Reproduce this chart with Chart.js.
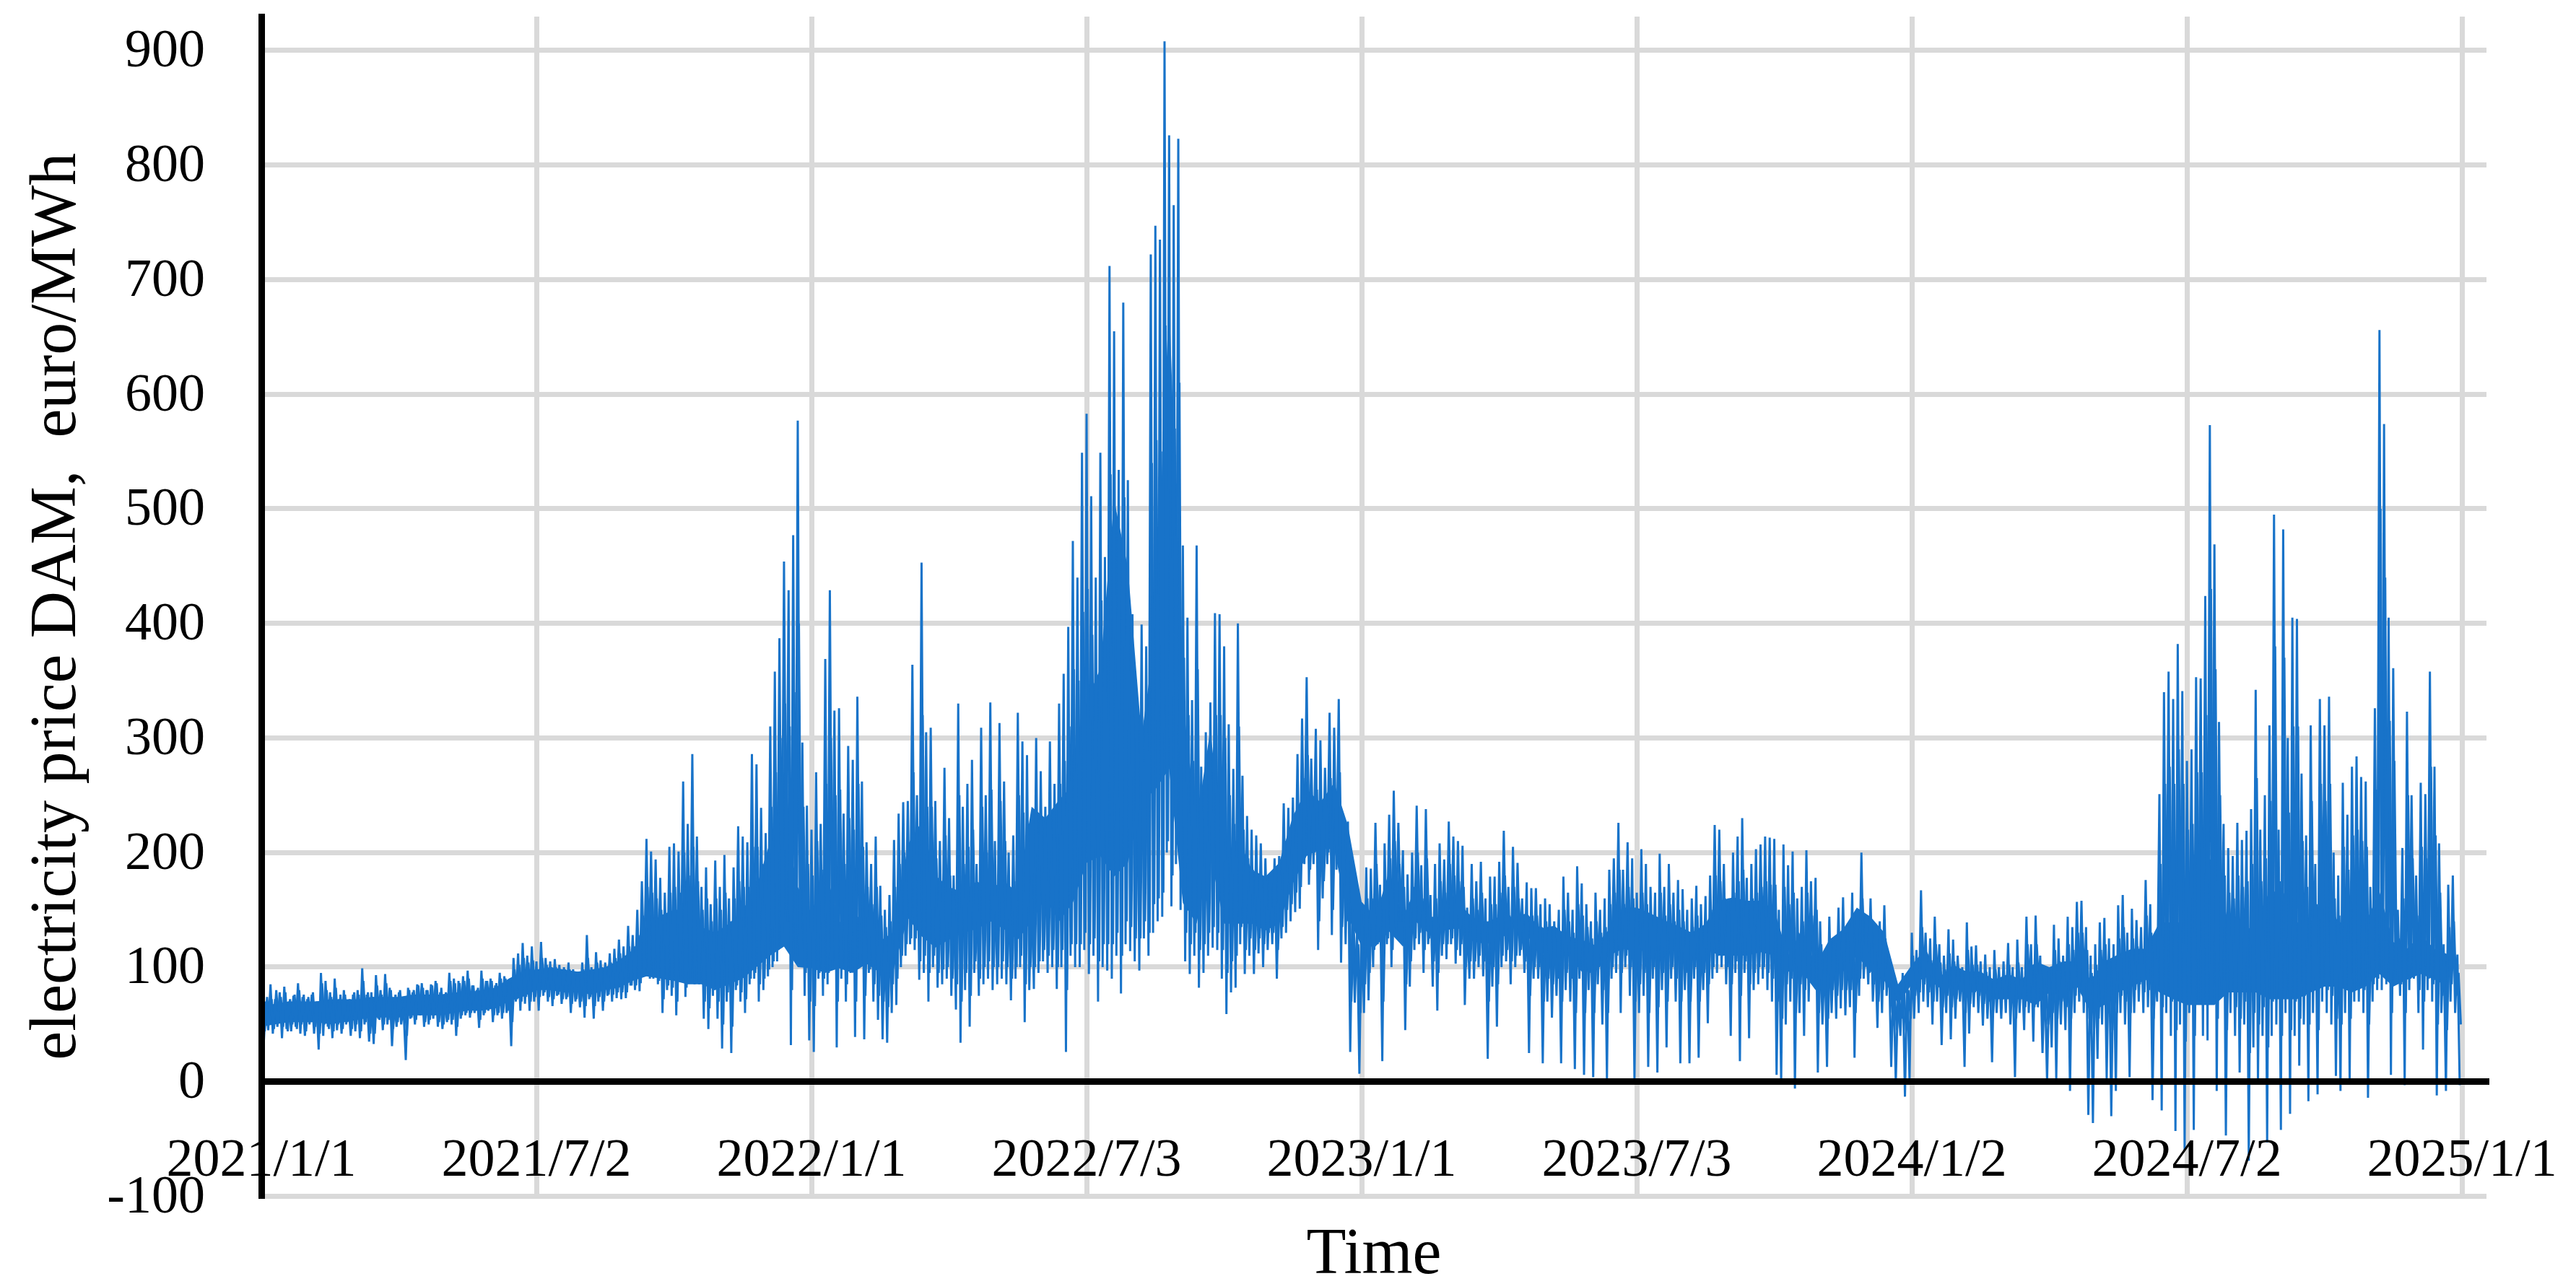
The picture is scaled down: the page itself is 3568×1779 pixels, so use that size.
<!DOCTYPE html>
<html><head><meta charset="utf-8">
<style>html,body{margin:0;padding:0;background:#fff}canvas{display:block}</style>
<script src="https://cdn.jsdelivr.net/npm/chart.js@4/dist/chart.umd.min.js"></script>
</head><body><canvas id="c" width="3568" height="1779"></canvas>
<script>
const tickLabels=['2021/1/1','2021/7/2','2022/1/1','2022/7/3','2023/1/1','2023/7/3','2024/1/2','2024/7/2','2025/1/1'];
const yTitle='electricity price DAM,  euro/MWh';
const xTitle='Time';
const price2021H1=[55,32,70,45,85,42,72,48,78,38,83,46,70,44,75,48,86,42,74,40,72,50,76,42,70,28,95,40,88,48,78,38,90,45,72,42,80,50,68,40,76,44,80,38,99,50,76,35,78,33,93,55,80,45,94,50,82,31,70,48,78,50,65,19,82,55,78,50,85,58,86,48,80,50,85,55,88,48,78,46,72,52,95,50,90,40,88,55,92,58,97,56,84,60,80,47,97,58,88,62,90,52,84,58,95,55,92,60,88,31,108,70,112,62,121,68,110,62,118,70];
const price2021H2=[105,62,122,75,108,70,105,66,107,75,102,68,100,72,104,60,98,70,96,65,104,56,128,72,100,55,113,70,106,62,104,75,112,70,116,73,124,72,118,73,136,84,128,80,150,79,175,95,212,95,201,90,194,85,178,60,165,80,205,75,208,58,201,90,262,74,225,90,286,85,214,85,170,55,187,46,155,75,193,55,170,29,198,70,160,25,187,80,223,70,214,60,209,85,286,90,277,70,239,80,217,92,310,100,358,105,387,120,454,150,429,32,477,110,577,110,296,75,241,36];
const price2022H1=[220,26,270,90,225,75,369,85,429,100,324,30,326,90,234,70,293,95,281,39,336,100,262,37,209,95,190,70,214,54,171,37,150,34,163,60,211,67,234,100,244,110,245,120,364,115,250,89,453,95,305,70,309,100,245,82,210,85,274,90,230,75,180,63,330,34,240,80,260,48,281,95,190,75,309,85,250,90,331,80,210,85,313,90,262,85,200,71,215,90,322,100,297,52,285,80,180,81,300,95,271,105,240,95,297,100,260,81,330,100,356,26,397,110,472,100,440,100,549,115];
const price2022H2=[583,94,511,110,440,70,549,100,458,97,712,90,655,110,534,77,680,120,525,114,408,105,330,97,399,125,380,110,722,130,747,140,735,144,908,200,826,153,765,190,823,150,468,105,405,94,333,110,468,82,275,95,305,110,331,117,409,115,408,90,380,59,312,78,273,82,400,120,267,94,232,110,220,94,215,112,208,100,195,115,179,120,195,90,197,125,243,130,239,140,248,148,286,151,317,190,353,172,282,190,308,115,298,160,274,190,322,128,309,185,334,104,229,120,227,26,151,69,132,7];
const price2023H1=[150,60,187,71,186,100,226,120,172,18,208,120,233,100,254,130,226,140,202,45,181,83,200,115,241,120,189,95,238,120,163,83,190,62,208,110,194,107,227,120,214,103,210,110,206,67,152,90,190,90,175,100,192,92,160,20,179,83,179,48,192,100,219,105,170,85,205,100,191,110,160,95,174,25,169,90,169,90,155,16,160,70,155,56,140,75,150,16,179,80,165,70,150,11,188,90,173,6,155,80,140,4,165,85,150,50,160,3,185,90,195,95,226,60,185,100,209,75,195,2];
const price2023H2=[165,60,203,75,190,13,170,90,165,8,199,80,170,30,190,90,165,70,176,16,168,80,150,16,160,90,171,21,155,80,162,51,180,90,224,95,220,100,190,85,160,40,200,95,214,18,230,95,178,38,190,80,203,85,207,90,214,80,213,70,212,6,150,-1,207,50,189,70,201,-6,160,60,170,40,202,70,175,85,178,8,140,50,110,13,144,60,125,55,152,64,161,58,130,65,165,21,150,75,200,90,130,85,160,70,120,47,140,60,154,75,110,13,88,-1,79,40,95,-13,93,1];
const price2024H1=[130,55,115,60,167,70,130,65,125,50,144,70,120,32,110,60,133,37,124,55,110,70,100,13,139,42,118,65,119,60,105,49,111,55,100,17,115,60,100,55,105,60,121,50,100,4,124,60,100,45,144,60,120,35,145,65,110,25,90,0,100,30,137,3,125,50,110,45,144,-8,135,60,157,70,158,60,135,-29,110,-36,120,20,139,50,143,3,125,-30,120,-8,154,60,163,50,130,4,151,60,141,70,135,60,176,65,155,-16,120,70,251,-25,340,60,358,40,334,-43,382,50,341,-60];
const price2024H2=[280,60,290,-42,353,70,352,40,424,36,573,70,469,-8,314,80,225,-47,204,60,197,40,226,8,211,50,219,-69,238,30,342,0,220,40,250,-53,311,40,495,50,220,-42,482,60,300,-28,405,40,404,14,269,50,215,-17,311,60,190,-11,334,70,311,60,336,50,200,5,180,-8,261,60,233,0,275,70,284,70,266,60,262,-14,170,70,326,80,656,80,574,85,405,6,361,90,150,75,204,-3,323,80,250,90,180,60,261,28,251,80,358,70,275,-12,208,60,120,-8,172,70,180,60,111,-3];

const tier2021H1=[68,44,74,50,72,46,80,52,74,48,78,44,72,50,76,46,80,50,76,44,74,52,78,48,70,42,86,50,80,46,74,44,82,50,76,46,76,52,72,46,78,50,76,44,88,52,78,42,74,42,84,54,76,50,86,54,80,46,76,52,80,54,74,40,80,56,80,54,84,58,82,52,80,54,84,58,86,52,82,50,78,54,88,54,86,48,86,58,88,60,90,60,84,62,82,54,90,60,88,64,88,58,86,60,90,60,90,62,88,52,98,72,102,70,108,74,104,70,106,74];
const tier2021H2=[98,74,108,78,102,74,100,72,100,76,98,72,98,74,98,68,96,72,94,70,98,66,108,74,96,66,104,74,100,70,100,76,104,76,108,78,112,78,110,78,118,84,118,84,128,86,145,92,170,90,165,92,160,88,150,72,145,84,165,82,170,70,165,90,200,82,180,90,205,88,175,88,150,70,160,64,140,80,160,70,150,50,165,78,140,48,160,84,175,78,170,72,170,90,205,95,205,85,190,90,180,98,240,105,270,115,300,130,330,140,310,80,340,120,400,120,240,95,190,70];
const tier2022H1=[180,66,210,95,185,90,260,95,300,105,250,70,255,98,190,85,230,100,220,70,260,105,205,75,170,98,155,85,170,75,145,70,135,65,140,85,170,90,190,110,200,120,200,125,270,125,205,105,320,110,240,95,240,110,195,95,170,98,215,100,180,90,150,85,250,70,190,95,205,75,220,105,160,90,240,100,200,105,255,100,170,100,245,105,210,100,165,90,175,100,250,110,235,85,225,100,150,100,235,105,215,115,195,110,235,115,210,100,260,115,280,80,310,120,360,120,350,120,410,130];
const tier2022H2=[430,120,390,125,340,105,420,120,360,120,530,120,490,130,410,110,510,140,410,135,320,125,270,125,310,140,300,130,540,155,560,160,550,165,660,210,600,180,570,210,610,175,370,130,320,120,280,130,360,115,230,120,250,130,270,135,320,130,320,115,300,95,250,105,225,110,310,135,220,115,195,125,185,115,180,125,180,120,170,130,160,130,170,115,175,135,210,150,205,155,215,165,240,170,265,200,285,185,240,200,255,140,245,175,230,200,265,150,250,195,270,135,195,140,190,70,135,95,120,60];
const tier2023H1=[135,85,160,95,160,115,190,125,150,70,175,125,195,115,210,135,190,140,170,85,155,105,170,125,200,130,160,115,195,125,140,105,160,95,175,120,165,120,190,125,180,115,175,120,170,100,135,105,160,105,150,110,165,105,140,70,155,100,155,85,165,110,180,115,145,105,170,110,160,115,140,105,145,75,145,100,145,100,135,70,140,90,135,85,125,90,130,70,150,95,140,90,130,60,155,100,145,60,135,95,125,60,140,100,130,80,135,60,155,100,165,110,185,95,155,110,170,100,160,70];
const tier2023H2=[140,85,165,95,155,60,145,100,140,65,165,95,145,70,155,100,140,90,150,70,140,95,130,70,135,100,145,70,135,95,138,85,150,100,180,110,175,110,160,100,135,85,165,105,175,75,185,105,150,85,160,95,165,100,170,100,175,95,172,90,172,70,125,55,170,85,155,90,165,60,130,85,140,80,165,90,145,95,150,60,120,75,100,55,120,80,108,75,125,80,130,80,110,80,135,60,125,90,160,100,115,95,130,85,105,70,115,80,125,90,95,60,78,45,72,55,82,45,80,55];
const tier2024H1=[110,75,102,78,135,85,110,78,106,70,120,85,104,65,98,75,112,65,105,72,98,82,92,60,115,68,102,78,102,75,92,68,96,70,90,60,98,75,90,72,92,75,102,70,88,55,104,75,88,65,120,78,102,65,120,80,96,60,82,50,88,60,115,55,105,70,95,65,120,55,115,75,130,85,130,78,115,55,95,45,102,55,115,70,120,60,105,45,102,60,125,75,135,70,110,60,125,80,118,85,115,78,145,80,130,55,105,80,190,65,260,80,275,70,260,45,290,70,260,35];
const tier2024H2=[220,75,225,40,270,85,270,70,320,70,430,85,360,55,250,90,180,45,165,78,160,65,180,55,170,70,175,25,190,60,265,50,175,65,195,30,245,70,380,75,175,40,370,80,235,45,310,70,310,55,210,75,170,50,245,80,155,45,260,85,245,80,260,75,160,55,145,50,205,80,185,55,215,85,220,85,210,80,205,50,140,85,255,90,500,95,440,95,315,60,280,100,125,85,160,60,250,90,195,100,145,80,205,70,195,90,275,85,215,50,165,75,105,45,135,85,140,75,95,50];

const bandHigh=[66,68,70,70,70,72,72,72,74,74,74,76,76,76,78,78,80,82,90,96,
98,100,98,96,98,100,106,115,135,145,150,150,135,130,138,150,170,210,230,170,
147,187,139,147,139,123,131,207,227,180,170,165,175,169,175,165,240,230,246,259,
332,361,508,449,302,390,684,332,226,308,191,214,185,179,191,232,255,244,261,224,
157,144,184,144,171,144,144,157,144,139,144,144,147,134,136,127,124,119,133,152,
152,147,141,136,130,138,158,161,158,158,150,110,133,102,124,133,152,144,130,85,
102,116,91,102,96,96,89,94,89,105,100,105,105,89,105,111,116,116,139,139,
139,194,194,139,128,139,166,166,139,139,166,139,139,139,166,122,116,128,116,111];
const bandLow=[48,50,52,52,52,50,52,54,56,56,56,58,58,58,60,62,62,64,70,74,
80,80,78,78,76,80,82,88,92,90,88,85,85,80,85,90,100,110,118,100,
99,95,99,95,103,95,99,143,127,117,124,130,133,140,133,124,140,160,140,156,
191,197,179,191,244,255,273,156,138,197,138,138,138,132,138,173,197,203,203,144,
118,118,131,118,139,128,132,134,123,120,123,134,128,112,110,110,96,96,110,116,
113,116,116,116,110,116,110,110,110,113,110,96,96,80,91,96,110,96,88,68,
85,91,82,82,77,80,72,72,72,67,78,78,83,61,67,78,83,89,78,72,
67,67,67,78,78,78,72,72,72,78,83,83,78,83,94,83,89,94,89,83];

const halves=[price2021H1,price2021H2,price2022H1,price2022H2,price2023H1,price2023H2,price2024H1,price2024H2];
const tiers=[tier2021H1,tier2021H2,tier2022H1,tier2022H2,tier2023H1,tier2023H2,tier2024H1,tier2024H2];
const points=[];
halves.forEach((arr,h)=>arr.forEach((v,k)=>points.push({x:h+k/arr.length,y:v})));
const tierPoints=[];
tiers.forEach((arr,h)=>arr.forEach((v,k)=>tierPoints.push({x:h+(k+0.5)/arr.length,y:v})));
const knotsPerHalf=20;
const upper=bandHigh.map((v,i)=>({x:i/knotsPerHalf,y:v}));
const lower=bandLow.map((v,i)=>({x:i/knotsPerHalf,y:v}));

const blue='#1873C9';
const serif='"Liberation Serif"';
const lineStyle={borderColor:blue,borderWidth:3,pointRadius:0,tension:0,fill:false,borderJoinStyle:'bevel',normalized:true};
new Chart(document.getElementById('c'),{
  type:'line',
  data:{datasets:[
    {data:points,...lineStyle},
    {data:tierPoints,...lineStyle},
    {data:upper,borderWidth:0,pointRadius:0,tension:0,backgroundColor:blue,fill:'+1'},
    {data:lower,borderWidth:0,pointRadius:0,tension:0,fill:false}
  ]},
  options:{
    responsive:false,animation:false,devicePixelRatio:1,
    layout:{padding:{top:23,right:124,bottom:0,left:0}},
    plugins:{
      legend:{display:false},tooltip:{enabled:false},
      title:{display:true,position:'bottom',fullSize:false,align:'center',text:xTitle,color:'#000',
        font:{family:serif,size:90,weight:'normal',lineHeight:0.85},padding:{top:45,bottom:0}}
    },
    scales:{
      x:{type:'linear',min:0,max:8.089,position:{y:0},
        afterBuildTicks:a=>{a.ticks=tickLabels.map((_,i)=>({value:i}));},
        afterFit:a=>{a.paddingLeft=0;a.paddingRight=0;a.paddingTop=0;a.paddingBottom=0;},
        grid:{color:'#d9d9d9',lineWidth:7,drawTicks:false},
        border:{display:true,color:'#000',width:9,z:2},
        ticks:{z:2,callback:(v,i)=>tickLabels[i],autoSkip:false,maxRotation:0,minRotation:0,padding:66,color:'#000',font:{family:serif,size:74}}
      },
      y:{type:'linear',min:-100,max:929.6,position:'left',
        afterFit:a=>{a.width=362;a.paddingTop=0;a.paddingBottom=0;a.paddingLeft=0;a.paddingRight=0;},
        grid:{color:'#d9d9d9',lineWidth:7,drawTicks:false},
        border:{display:true,color:'#000',width:9,z:2},
        ticks:{stepSize:100,includeBounds:false,padding:78,labelOffset:3,color:'#000',font:{family:serif,size:74}},
        title:{display:true,text:yTitle,color:'#000',font:{family:serif,size:90},padding:{top:26,bottom:0}}
      }
    }
  }
});
</script></body></html>
